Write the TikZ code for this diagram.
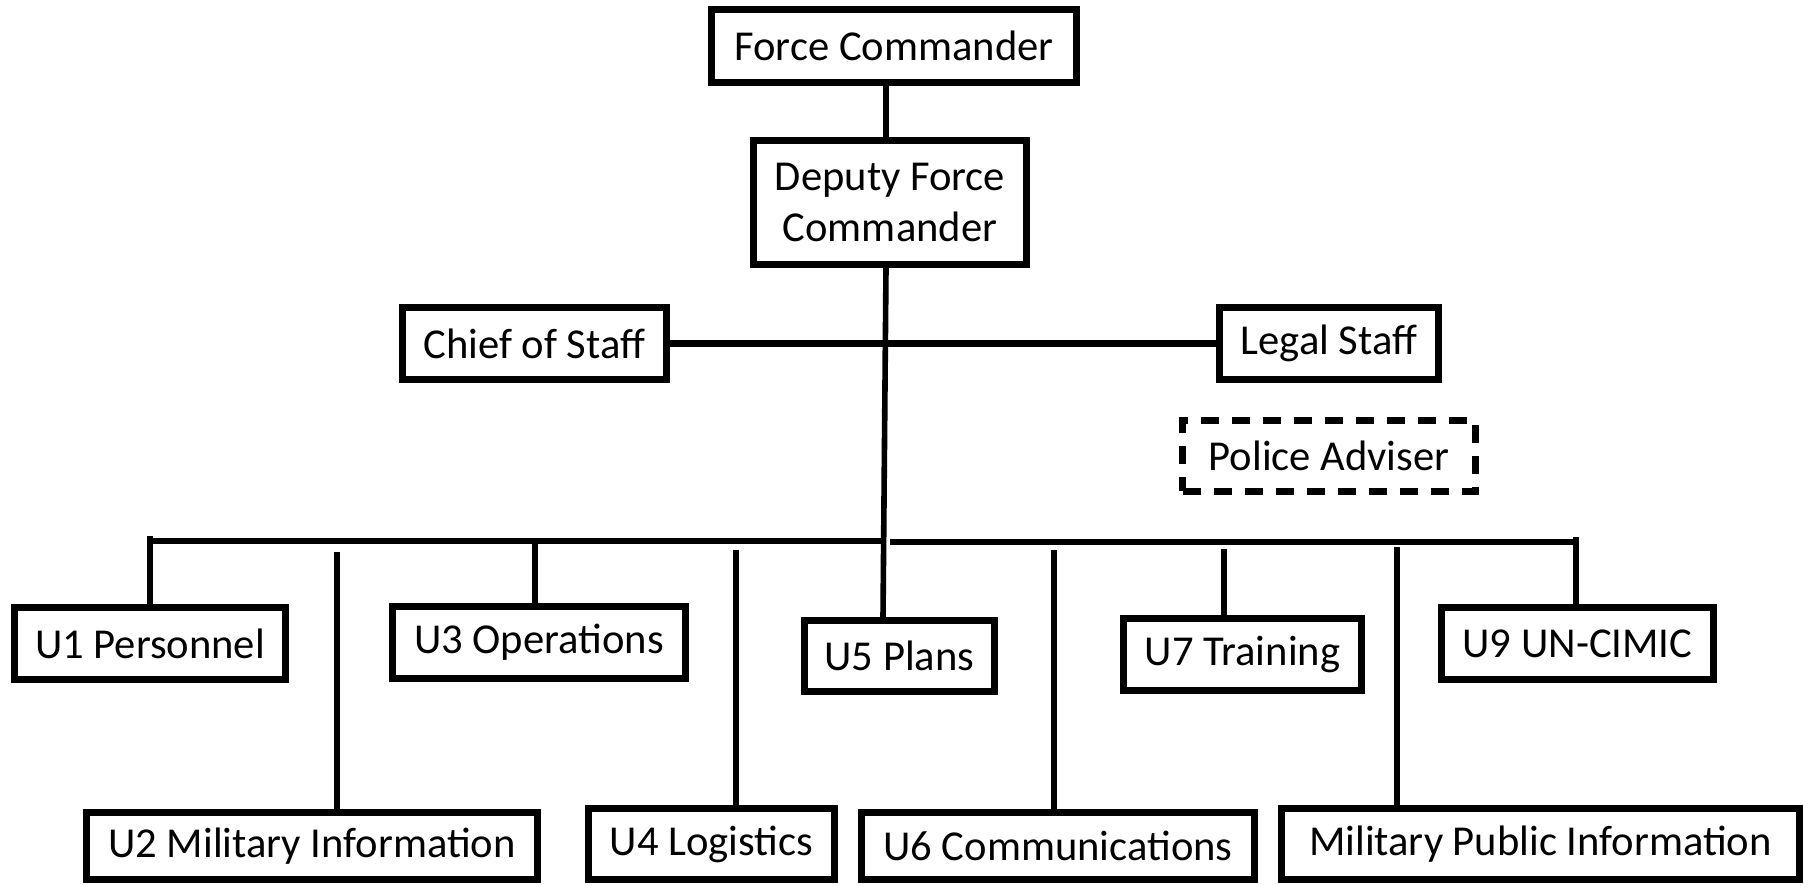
\documentclass[tikz,border=0pt]{standalone}
\usepackage{fontspec}
\setmainfont{Carlito}
\begin{document}
\begin{tikzpicture}[x=0.5pt,y=-0.5pt,
  box/.style={draw=black,line width=3.7pt,fill=white,inner sep=0pt,align=center,
    font=\fontsize{21.3pt}{25.5pt}\selectfont},
  dbox/.style={box,dash pattern=on 9pt off 6.5pt},
  conn/.style={line width=2.8pt},
  bus/.style={line width=3.2pt}]
\useasboundingbox (0,0) rectangle (1804,885);
% nodes
\node[box,minimum width=182.4pt,minimum height=36.4pt] (fc) at (894,46) {Force Commander};
\node[box,minimum width=136.4pt,minimum height=61.9pt] (dfc) at (890,202.5) {Deputy Force\\Commander};
\node[box,minimum width=131.9pt,minimum height=35.9pt] (cos) at (534.5,343.5) {Chief of Staff};
\node[box,minimum width=109.4pt,minimum height=35.9pt] (legal) at (1329,343.5) {Legal Staff};
\node[dbox,minimum width=146.4pt,minimum height=35.4pt] (police) at (1329,456) {Police Adviser};
\node[box,minimum width=135.4pt,minimum height=35.9pt] (u1) at (150,643.5) {U1 Personnel};
\node[box,minimum width=225.4pt,minimum height=33.4pt] (u2) at (312,846) {U2 Military Information};
\node[box,minimum width=146.4pt,minimum height=35.9pt] (u3) at (539,642.5) {U3 Operations};
\node[box,minimum width=122.9pt,minimum height=35.4pt] (u4) at (711.5,844) {U4 Logistics};
\node[box,minimum width=94.9pt,minimum height=35.4pt] (u5) at (899.5,656) {U5 Plans};
\node[box,minimum width=196.4pt,minimum height=33.4pt] (u6) at (1058,846) {U6 Communications};
\node[box,minimum width=118.9pt,minimum height=35.9pt] (u7) at (1242.5,654.5) {U7 Training};
\node[box,minimum width=135.9pt,minimum height=35.9pt] (u9) at (1577.5,643.5) {U9 UN-CIMIC};
\node[box,minimum width=258.9pt,minimum height=35.4pt] (mpi) at (1540.5,844) {Military Public Information};
% coordinates
\coordinate (t) at (886,0);
\coordinate (tr) at (883,0);
\coordinate (bl) at (150,536);
\coordinate (blend) at (884,541);
\coordinate (brs) at (890,542);
\coordinate (bre) at (1576,537);
\coordinate (c2) at (337,552);
\coordinate (c3) at (535,541);
\coordinate (c4) at (736,550);
\coordinate (c6) at (1054,550);
\coordinate (c7) at (1224,549);
\coordinate (c8) at (1397,547);
% connectors
\draw[conn] (fc.south -| t) -- (dfc.north -| t);
\draw[conn] (dfc.south -| t) -- (u5.north -| tr);
\draw[bus] (cos.east) -- (legal.west);
\draw[bus] (u1.north -| bl) -- (bl) -- (bl |- blend) -- (blend);
\draw[bus] (brs) -- (brs -| bre) -- (bre);
\draw[conn] (bre) -- (u9.north -| bre);
\draw[conn] (c2) -- (c2 |- u2.north);
\draw[conn] (c3) -- (c3 |- u3.north);
\draw[conn] (c4) -- (c4 |- u4.north);
\draw[conn] (c6) -- (c6 |- u6.north);
\draw[conn] (c7) -- (c7 |- u7.north);
\draw[conn] (c8) -- (c8 |- mpi.north);
\end{tikzpicture}
\end{document}
